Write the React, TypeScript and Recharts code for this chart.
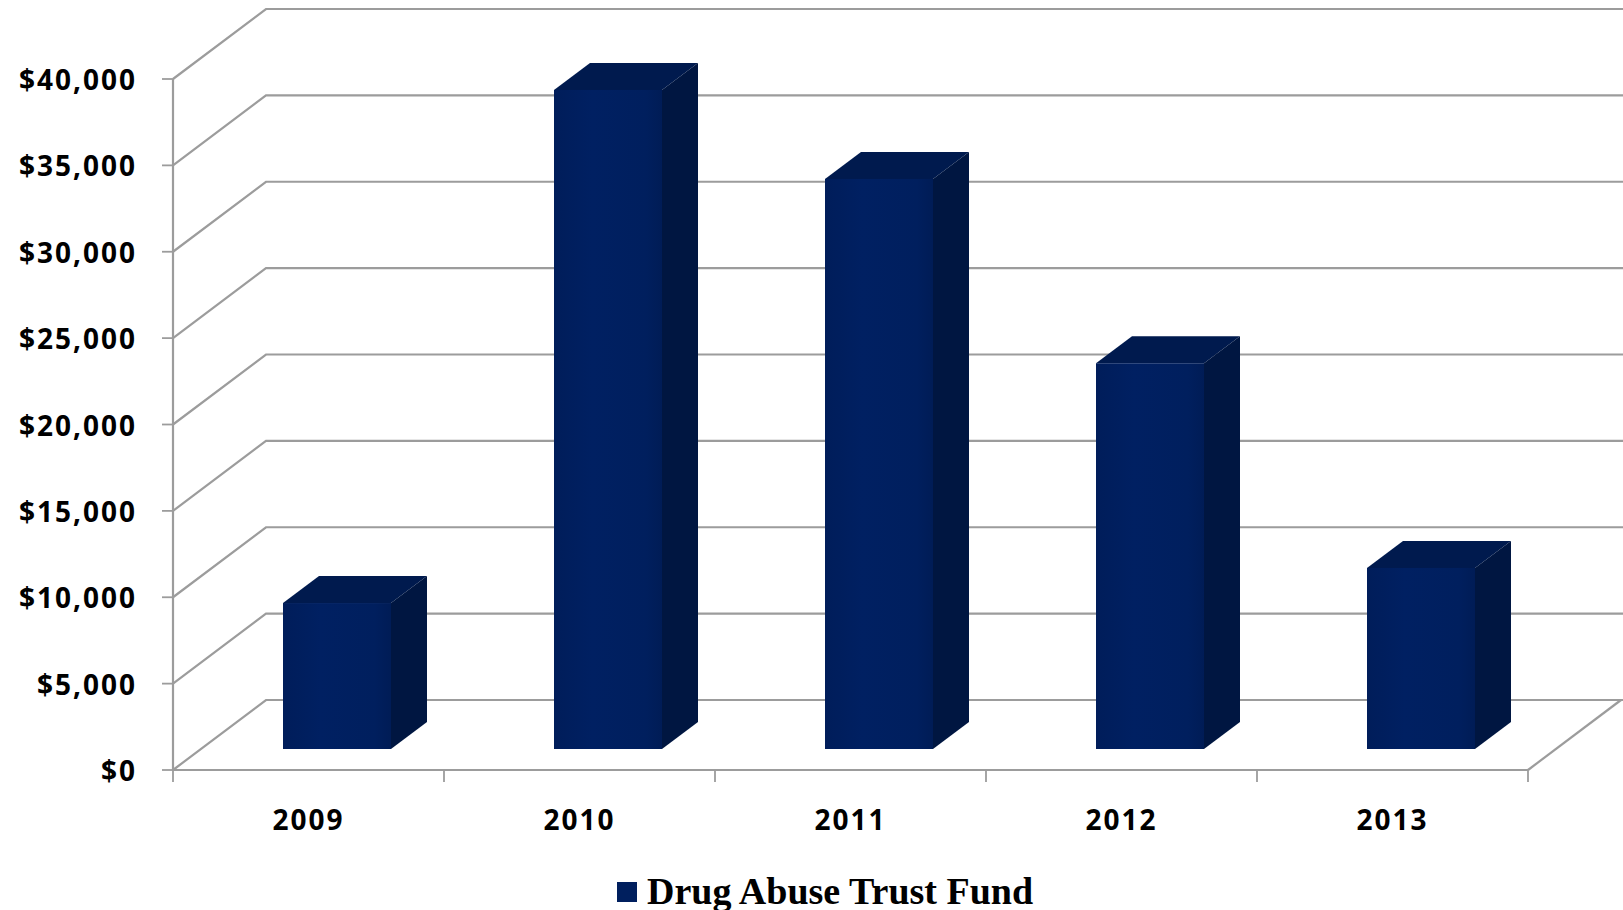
import { BarChart, Bar, XAxis, YAxis, CartesianGrid, Legend } from 'recharts'

const years = ['2009', '2010', '2011', '2012', '2013']
const fundValues = [8450, 38150, 33000, 22330, 10480]
const yTicks = [0, 5000, 10000, 15000, 20000, 25000, 30000, 35000, 40000]
const seriesName = 'Drug Abuse Trust Fund'

const data = years.map((year, i) => ({ year, fund: fundValues[i] }))

const W = 1623
const H = 910
const GRID = '#9c9c9c'
const FRONT = '#001f5e'
const SIDE = '#001641'
const TOP = '#001a4e'
const LABEL_FONT = '"Open Sans", sans-serif'

// depth of the 3d box: back wall offset, bar front offset, bar depth
const WALL_DX = 93
const WALL_DY = 70
const FACE_DX = 28
const FACE_DY = 21
const BAR_DX = 36
const BAR_DY = 27
const PLOT_BOTTOM = 770

function GridLine(props: any) {
  const { x1, y1, x2 } = props
  const bx = x1 + WALL_DX
  const by = y1 - WALL_DY
  return (
    <g key={props.key}>
      <polyline
        points={`${x1},${y1} ${bx},${by} ${W},${by}`}
        fill="none"
        stroke={GRID}
        strokeWidth={2.2}
      />
      {Math.abs(y1 - PLOT_BOTTOM) < 1 && (
        <line x1={x2} y1={y1} x2={x2 + WALL_DX} y2={by} stroke={GRID} strokeWidth={2.2} />
      )}
    </g>
  )
}

function Box3D(props: any) {
  const { x, y, width, height } = props
  if (!height) return null
  const fx = x + FACE_DX
  const fy = y - FACE_DY
  const bottom = fy + height
  const r = fx + width
  return (
    <g>
      <polygon
        points={`${fx},${fy} ${fx + BAR_DX},${fy - BAR_DY} ${r + BAR_DX},${fy - BAR_DY} ${r},${fy}`}
        fill={TOP}
      />
      <polygon
        points={`${r},${fy} ${r + BAR_DX},${fy - BAR_DY} ${r + BAR_DX},${bottom - BAR_DY} ${r},${bottom}`}
        fill={SIDE}
      />
      <rect x={fx} y={fy} width={width} height={height} fill="url(#frontShade)" />
    </g>
  )
}

function YTick(props: any) {
  const { x, y, payload } = props
  return (
    <text
      x={x}
      y={y + 11}
      textAnchor="end"
      fontFamily={LABEL_FONT}
      fontWeight={700}
      fontSize={28}
      letterSpacing={2}
      fill="#000"
    >
      {'$' + payload.value.toLocaleString('en-US')}
    </text>
  )
}

// category label plus the tick marks on the band edges
function XTick(props: any) {
  const { x, y, payload, index, visibleTicksCount } = props
  const half = payload.offset || 0
  const isLast = index === visibleTicksCount - 1
  return (
    <g>
      <line x1={x - half} y1={y} x2={x - half} y2={y + 12} stroke={GRID} strokeWidth={1.8} />
      {isLast && <line x1={x + half} y1={y} x2={x + half} y2={y + 12} stroke={GRID} strokeWidth={1.8} />}
      <text
        x={x}
        y={y + 60}
        textAnchor="middle"
        fontFamily={LABEL_FONT}
        fontWeight={700}
        fontSize={28}
        letterSpacing={2}
        fill="#000"
      >
        {payload.value}
      </text>
    </g>
  )
}

function LegendContent() {
  return (
    <div style={{ display: 'flex', alignItems: 'center', height: 50, paddingTop: 6 }}>
      <span style={{ display: 'inline-block', width: 20, height: 20, background: FRONT, marginRight: 10, marginTop: 2 }} />
      <span
        style={{
          fontFamily: '"Liberation Serif", serif',
          fontWeight: 700,
          fontSize: 38,
          color: '#000',
          lineHeight: '50px',
          whiteSpace: 'nowrap',
        }}
      >
        {seriesName}
      </span>
    </div>
  )
}

export default function App() {
  return (
    <div style={{ position: 'absolute', left: 0, top: 0, width: W, height: H, background: '#fff' }}>
      <BarChart width={W} height={H} data={data} margin={{ top: 79, right: 95, bottom: 0, left: 0 }}>
        <defs>
          <linearGradient id="frontShade" x1="0" y1="0" x2="1" y2="0">
            <stop offset="0%" stopColor="#001d5a" />
            <stop offset="35%" stopColor="#002062" />
            <stop offset="85%" stopColor="#001f5e" />
            <stop offset="100%" stopColor="#001c56" />
          </linearGradient>
        </defs>
        <CartesianGrid horizontal={GridLine} vertical={false} />
        <XAxis
          dataKey="year"
          axisLine={{ stroke: GRID, strokeWidth: 2.2 }}
          tickLine={false}
          tickSize={0}
          tickMargin={0}
          tick={XTick}
          height={90}
          interval={0}
        />
        <YAxis
          domain={[0, 40000]}
          ticks={yTicks}
          width={173}
          interval={0}
          axisLine={{ stroke: GRID, strokeWidth: 2.2 }}
          tickLine={{ stroke: GRID, strokeWidth: 1.8 }}
          tickSize={11}
          tickMargin={25}
          tick={YTick}
        />
        <Legend
          verticalAlign="bottom"
          height={50}
          content={LegendContent}
          wrapperStyle={{ left: 617, width: 600, bottom: 0 }}
        />
        <Bar dataKey="fund" name={seriesName} barSize={108} shape={Box3D} isAnimationActive={false} />
      </BarChart>
    </div>
  )
}
